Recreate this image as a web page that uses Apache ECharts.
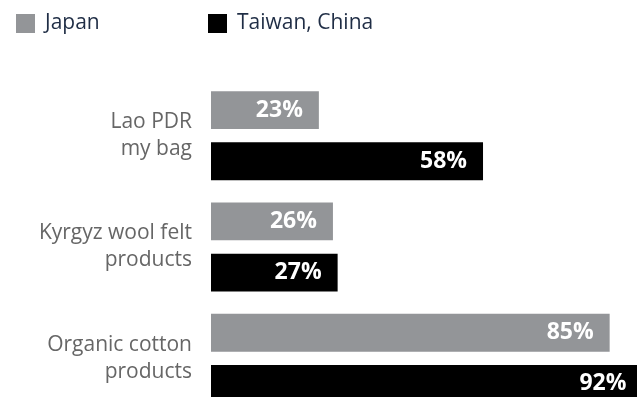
<!DOCTYPE html>
<html><head><meta charset="utf-8">
<script src="https://cdn.jsdelivr.net/npm/echarts@6/dist/echarts.min.js"></script>
<style>html,body{margin:0;padding:0;background:#fff}#c{width:637px;height:397px}</style>
</head><body><div id="c"></div>
<script>
const categories = ['Lao PDR\nmy bag', 'Kyrgyz wool felt\nproducts', 'Organic cotton\nproducts'];
const seriesNames = ['Japan', 'Taiwan, China'];
const japan = [23, 26, 85];
const taiwan = [58, 27, 92];

const chart = echarts.init(document.getElementById('c'));
const lbl = {
  show: true, position: 'insideRight', distance: 16,
  formatter: p => p.value + '%',
  color: '#fff', fontFamily: 'Open Sans', fontWeight: 'bold', fontSize: 23
};
const legendBase = {
  top: 13, padding: 0, itemWidth: 19, itemHeight: 19, icon: 'rect',
  textStyle: { fontFamily: 'Open Sans', fontSize: 21, color: '#1f2d45', padding: [0, 0, 0, 5] }
};
chart.setOption({
  animation: false,
  legend: [
    Object.assign({ left: 16, data: [seriesNames[0]] }, legendBase),
    Object.assign({ left: 208, data: [seriesNames[1]] }, legendBase)
  ],
  grid: { left: 211, top: 80, width: 469, height: 334, containLabel: false, outerBoundsMode: 'none' },
  xAxis: { type: 'value', min: 0, max: 100, show: false },
  yAxis: {
    type: 'category', inverse: true, data: categories,
    axisLine: { show: false }, axisTick: { show: false },
    axisLabel: { margin: 19, fontFamily: 'Open Sans', fontSize: 21, color: '#666', lineHeight: 27, align: 'right', padding: [6, 0, 0, 0] }
  },
  series: [
    { name: seriesNames[0], type: 'bar', data: japan, itemStyle: { color: '#939598' },
      barGap: '35%', barCategoryGap: '20%', label: lbl },
    { name: seriesNames[1], type: 'bar', data: taiwan, itemStyle: { color: '#000' },
      label: lbl }
  ]
});
</script></body></html>
